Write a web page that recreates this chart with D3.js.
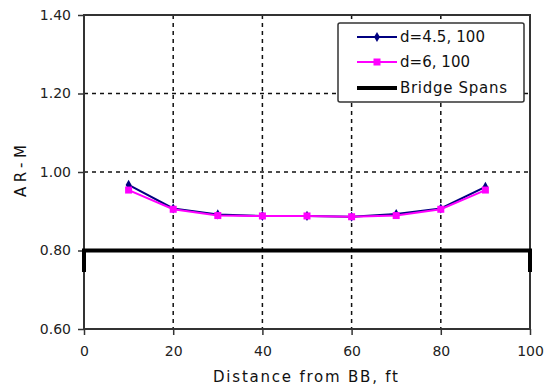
<!DOCTYPE html>
<html><head><meta charset="utf-8">
<script src="https://cdn.jsdelivr.net/npm/d3@7"></script>
<style>body{margin:0;background:#fff;}svg{display:block;font-family:"DejaVu Sans",sans-serif;}</style>
</head><body><svg id="c" width="544" height="392"></svg>
<script>
const xValues = [10,20,30,40,50,60,70,80,90];
const seriesD45 = [0.967,0.907,0.892,0.888,0.888,0.886,0.893,0.907,0.962];
const seriesD6 = [0.954,0.905,0.889,0.888,0.888,0.886,0.889,0.905,0.954];
const bridgeX = [0,0,100,100];
const bridgeY = [0.745,0.80,0.80,0.745];
const xTicks = [0,20,40,60,80,100];
const yTicks = [0.6,0.8,1.0,1.2,1.4];
const seriesNames = ["d=4.5, 100","d=6, 100","Bridge Spans"];

const svg = d3.select("#c");
const x = d3.scaleLinear().domain([0,100]).range([84,530]);
const y = d3.scaleLinear().domain([0.6,1.4]).range([329,15]);
const FONT = "'DejaVu Sans',sans-serif";

// gridlines
const g = svg.append("g");
g.selectAll("line.vg").data(xTicks.slice(1,-1)).enter().append("line")
  .attr("x1",d=>x(d)).attr("x2",d=>x(d)).attr("y1",y(1.4)).attr("y2",y(0.6))
  .attr("stroke","#111").attr("stroke-width",1.5).attr("stroke-dasharray","4,4");
g.selectAll("line.hg").data(yTicks.slice(1,-1)).enter().append("line")
  .attr("y1",d=>y(d)).attr("y2",d=>y(d)).attr("x1",x(0)).attr("x2",x(100))
  .attr("stroke","#111").attr("stroke-width",1.5).attr("stroke-dasharray","4,4");

// axes
const xAxis = svg.append("g").attr("transform",`translate(0,${y(0.6)})`)
  .call(d3.axisBottom(x).tickValues(xTicks).tickSize(6).tickPadding(11).tickFormat(d3.format("d")));
const yAxis = svg.append("g").attr("transform",`translate(${x(0)},0)`)
  .call(d3.axisLeft(y).tickValues(yTicks).tickSize(6).tickPadding(7).tickFormat(d3.format(".2f")));
[xAxis,yAxis].forEach(a=>{
  a.select(".domain").remove();
  a.selectAll("line").attr("stroke","#333").attr("stroke-width",1.5);
  a.selectAll("text").attr("fill","#222").style("font-size","14px").style("font-family",FONT);
});
// frame
svg.append("rect").attr("x",x(0)).attr("y",y(1.4)).attr("width",x(100)-x(0)).attr("height",y(0.6)-y(1.4))
  .attr("fill","none").attr("stroke","#333").attr("stroke-width",2);

// bridge spans
const bridge = bridgeX.map((v,i)=>[v,bridgeY[i]]);
svg.append("path").datum(bridge)
  .attr("d",d3.line().x(d=>x(d[0])).y(d=>y(d[1])))
  .attr("fill","none").attr("stroke","#000").attr("stroke-width",4);

// series
const line = d3.line().x(d=>x(d[0])).y(d=>y(d[1]));
const s1 = xValues.map((v,i)=>[v,seriesD45[i]]);
const s2 = xValues.map((v,i)=>[v,seriesD6[i]]);
svg.append("path").datum(s1).attr("d",line).attr("fill","none").attr("stroke","#000080").attr("stroke-width",2);
svg.selectAll("path.m1").data(s1).enter().append("path")
  .attr("transform",d=>`translate(${x(d[0])},${y(d[1])})`)
  .attr("d",d3.symbol().type(d3.symbolDiamond).size(30)).attr("fill","#000080");
svg.append("path").datum(s2).attr("d",line).attr("fill","none").attr("stroke","#FF00FF").attr("stroke-width",2);
svg.selectAll("rect.m2").data(s2).enter().append("rect")
  .attr("x",d=>x(d[0])-3.5).attr("y",d=>y(d[1])-3.5).attr("width",7).attr("height",7).attr("fill","#FF00FF");

// legend
const lg = svg.append("g");
lg.append("rect").attr("x",338).attr("y",23).attr("width",186).attr("height",79).attr("rx",2)
  .attr("fill","#fff").attr("stroke","#333").attr("stroke-width",1.5);
const rows = [37,62,88];
const colors = ["#000080","#FF00FF","#000"];
const legLens = [85,70,107];
rows.forEach((ry,i)=>{
  lg.append("line").attr("x1",357).attr("x2",397).attr("y1",ry).attr("y2",ry)
    .attr("stroke",colors[i]).attr("stroke-width",i===2?4:2);
  if(i===0) lg.append("path").attr("transform",`translate(377,${ry})`).attr("d",d3.symbol().type(d3.symbolDiamond).size(30)).attr("fill",colors[0]);
  if(i===1) lg.append("rect").attr("x",373.5).attr("y",ry-3.5).attr("width",7).attr("height",7).attr("fill",colors[1]);
  lg.append("text").attr("x",400).attr("y",ry).attr("dy","0.36em").text(seriesNames[i])
    .attr("textLength",legLens[i]).attr("lengthAdjust","spacing")
    .attr("fill","#111").style("font-size","15px");
});

// axis titles
svg.append("text").attr("x",213).attr("y",377).attr("dy","0.36em")
  .attr("textLength",185).attr("lengthAdjust","spacing")
  .text("Distance from BB, ft").attr("fill","#111").style("font-size","15px");
svg.append("text").attr("transform","translate(21,197) rotate(-90)").attr("dy","0.36em")
  .attr("textLength",52).attr("lengthAdjust","spacing")
  .text("AR-M").attr("fill","#111").style("font-size","15px");
</script></body></html>
